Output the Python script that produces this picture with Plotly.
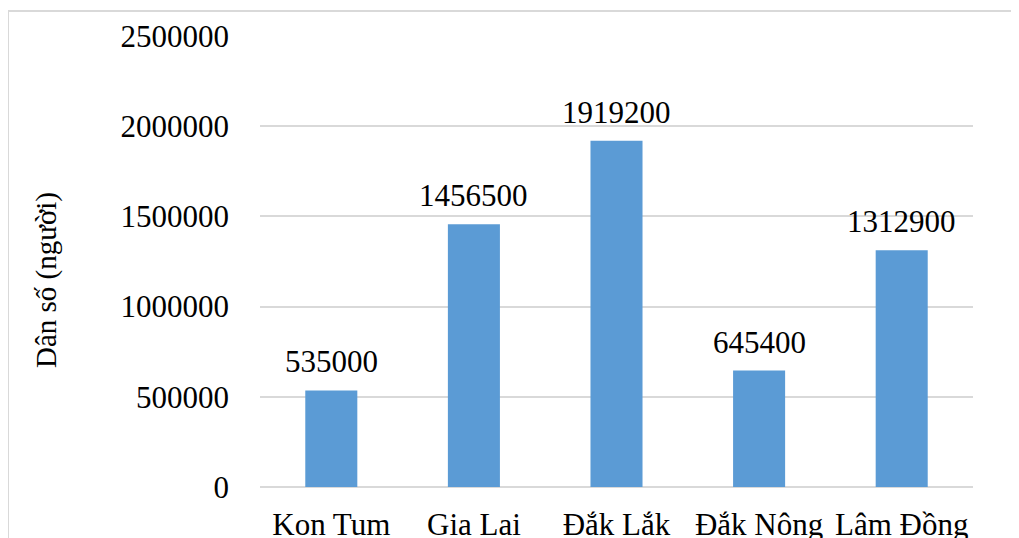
import plotly.graph_objects as go

categories = ["Kon Tum", "Gia Lai", "Đắk Lắk", "Đắk Nông", "Lâm Đồng"]
population = [535000, 1456500, 1919200, 645400, 1312900]
tick_values = [0, 500000, 1000000, 1500000, 2000000, 2500000]
tick_labels = ["0", "500000", "1000000", "1500000", "2000000", "2500000"]
y_title = "Dân số (người)"

# page has an 8px body margin; figure coordinates = page coordinates - 8
OFF = 8
W, H = 1019 - OFF, 538 - OFF
L, R, T, B = 260 - OFF, 1019 - 973, 36 - OFF, 538 - 487
pw, ph = W - L - R, H - T - B

def px_x(p):  # page px -> paper
    return (p - OFF - L) / pw

def px_y(p):
    return (H - B - (p - OFF)) / ph

FF = "'Times New Roman', 'Liberation Serif', Tinos, serif"
tf = dict(family=FF, size=31, color="#000000")

fig = go.Figure(go.Bar(
    x=categories, y=population,
    marker=dict(color="#5b9bd5", line=dict(width=0)),
    cliponaxis=False,
    hoverinfo="x+y",
))

annotations = [
    dict(x=c, y=v, xref="x", yref="y", text=str(v), showarrow=False,
         xanchor="center", yanchor="bottom", yshift=9, font=tf)
    for c, v in zip(categories, population)
]
annotations.append(
    dict(text=y_title, xref="paper", yref="paper", x=px_x(46), y=px_y(280),
         textangle=-90, showarrow=False, xanchor="center", yanchor="middle",
         font=dict(family=FF, size=29, color="#000000"))
)

fig.update_layout(
    width=W, height=H,
    margin=dict(l=L, r=R, t=T, b=B, pad=0),
    paper_bgcolor="white", plot_bgcolor="white",
    bargap=0.635,
    showlegend=False,
    font=dict(family=FF, size=31, color="#000000"),
    xaxis=dict(showgrid=False, showline=False, ticks="", ticklabelstandoff=16,
               tickfont=tf, automargin=False),
    yaxis=dict(range=[0, 2500000], tickvals=tick_values, ticktext=tick_labels,
               showgrid=True, gridcolor="#d9d9d9", gridwidth=1.5,
               zeroline=True, zerolinecolor="#d9d9d9", zerolinewidth=1.5,
               showline=False, ticks="", ticklabelstandoff=30,
               tickfont=tf, automargin=False),
    annotations=annotations,
    shapes=[
        dict(type="rect", xref="paper", yref="paper",
             x0=px_x(8), x1=px_x(1019 + 20), y0=px_y(11), y1=px_y(538 + 20),
             line=dict(color="#d9d9d9", width=2), fillcolor="rgba(0,0,0,0)", layer="below"),
        dict(type="circle", xref="paper", yref="paper",
             x0=px_x(-25), x1=px_x(70), y0=px_y(6), y1=px_y(-90),
             line=dict(width=0), fillcolor="#ececec", layer="below"),
    ],
)

fig.write_html("out.html")
